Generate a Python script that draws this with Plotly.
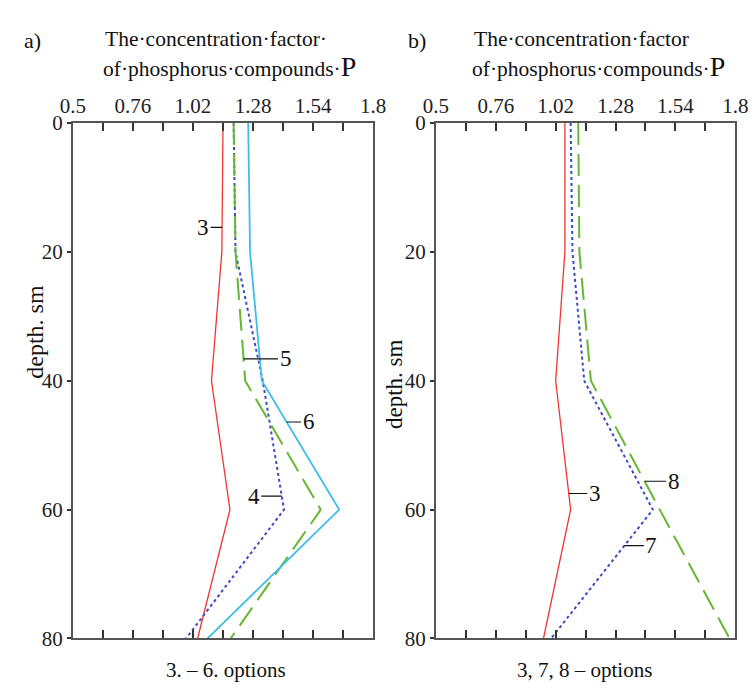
import numpy as np
import plotly.graph_objects as go

# depth levels, cm
depth = [0, 20, 40, 60, 80]

# panel a) options 3-6: concentration factor of phosphorus compounds
a_opt3 = [1.15, 1.145, 1.10, 1.18, 1.04]
a_opt4 = [1.196, 1.204, 1.322, 1.414, 0.99]
a_opt5 = [1.196, 1.204, 1.246, 1.573, 1.183]
a_opt6 = [1.259, 1.267, 1.318, 1.653, 1.083]

# panel b) options 3, 7, 8
b_opt3 = [1.06, 1.06, 1.02, 1.085, 0.967]
b_opt7 = [1.085, 1.093, 1.144, 1.442, 1.0]
b_opt8 = [1.118, 1.123, 1.173, 1.472, 1.775]

x_ticks = [0.5, 0.63, 0.76, 0.89, 1.02, 1.15, 1.28, 1.41, 1.54, 1.67, 1.8]
x_tick_text = ["0.5", "", "0.76", "", "1.02", "", "1.28", "", "1.54", "", "1.8"]
y_ticks = [0, 20, 40, 60, 80]

SERIF = "Liberation Serif"
RED = "#ee3535"
BLUE = "#3a4cc0"
GREEN = "#66b832"
CYAN = "#3ebde9"

fig = go.Figure()


def add_line(xs, xa, ya, color, dash, width):
    fig.add_trace(go.Scatter(
        x=xs, y=depth, xaxis=xa, yaxis=ya, mode="lines",
        line=dict(color=color, dash=dash, width=width),
        showlegend=False, hoverinfo="skip"))


add_line(a_opt3, "x", "y", RED, "solid", 1.3)
add_line(a_opt4, "x", "y", BLUE, "3px,3px", 2)
add_line(a_opt5, "x", "y", GREEN, "22px,9px", 2)
add_line(a_opt6, "x", "y", CYAN, "solid", 1.8)

add_line(b_opt3, "x2", "y2", RED, "solid", 1.3)
add_line(b_opt7, "x2", "y2", BLUE, "3px,3px", 2)
add_line(b_opt8, "x2", "y2", GREEN, "22px,9px", 2)

dom_a = [62 / 756, 373 / 756]
dom_b = [438 / 756, 748 / 756]
dom_y = [1 - 649 / 692, 1 - 115 / 692]

xaxis_common = dict(
    range=[0.5, 1.8], side="top", tickmode="array", tickvals=x_ticks,
    ticktext=x_tick_text, ticks="inside", ticklen=8, tickwidth=1.5,
    tickcolor="#333", showline=True, linewidth=2, linecolor="#555",
    mirror="ticks", showgrid=False, zeroline=False,
    tickfont=dict(family=SERIF, size=21, color="#222"))

yaxis_common = dict(
    range=[80, 0], tickmode="array", tickvals=y_ticks, ticks="outside",
    ticklen=4, tickwidth=1.5, tickcolor="#333", showline=True,
    linewidth=2, linecolor="#555", mirror=True, showgrid=False,
    zeroline=False, tickfont=dict(family=SERIF, size=21, color="#222"))

yaxis_right = dict(
    range=[80, 0], tickmode="array", tickvals=[20, 40, 60], ticks="inside",
    ticklen=6, tickwidth=1.5, tickcolor="#333", showticklabels=False,
    showline=False, showgrid=False, zeroline=False, side="right")

fig.update_layout(
    width=756, height=692, margin=dict(l=0, r=0, t=0, b=0),
    paper_bgcolor="white", plot_bgcolor="white",
    xaxis=dict(domain=dom_a, anchor="y", **xaxis_common),
    yaxis=dict(domain=dom_y, anchor="x", **yaxis_common),
    xaxis2=dict(domain=dom_b, anchor="y2", **xaxis_common),
    yaxis2=dict(domain=dom_y, anchor="x2", **yaxis_common),
    yaxis3=dict(overlaying="y", anchor="x", **yaxis_right),
    yaxis4=dict(overlaying="y2", anchor="x2", **yaxis_right),
)

annotations = []


def paper_text(text, x, y, size, xanchor="left", angle=0):
    annotations.append(dict(
        text=text, x=x / 756, y=1 - y / 692, xref="paper", yref="paper",
        xanchor=xanchor, yanchor="middle", showarrow=False, textangle=angle,
        font=dict(family=SERIF, size=size, color="#111")))


# panel letters and headings
paper_text("a)", 9, 30, 22)
paper_text("b)", 407, 30, 22)
paper_text("The·concentration·factor·", 93, 28, 21.5)
paper_text("of·phosphorus·compounds·<span style='font-size:28px'>P</span>", 91, 56, 21.5)
paper_text("The·concentration·factor", 475, 28, 21.5)
paper_text("of·phosphorus·compounds·<span style='font-size:28px'>P</span>", 473, 56, 21.5)

# vertical axis titles
paper_text("depth. sm", 22, 331, 24, xanchor="center", angle=-90)
paper_text("depth. sm", 395, 385, 23, xanchor="center", angle=-90)

# captions under panels
paper_text("3. – 6. options", 221, 682, 21, xanchor="center")
paper_text("3, 7, 8 – options", 592, 682, 21, xanchor="center")


def curve_label(text, series, d, xa, ya, ax):
    annotations.append(dict(
        text=text, x=float(np.interp(d, depth, series)), y=d, xref=xa, yref=ya,
        ax=ax, ay=0, showarrow=True, arrowhead=0, arrowwidth=1.2,
        arrowcolor="#111", standoff=0,
        font=dict(family=SERIF, size=23, color="#111")))


curve_label("3", a_opt3, 16.2, "x", "y", -19)
curve_label("5", a_opt5, 36.6, "x", "y", 42)
curve_label("6", a_opt6, 46.4, "x", "y", 22)
curve_label("4", a_opt4, 57.9, "x", "y", -28)

curve_label("3", b_opt3, 57.5, "x2", "y2", 26)
curve_label("8", b_opt8, 55.6, "x2", "y2", 29)
curve_label("7", b_opt7, 65.6, "x2", "y2", 27)

fig.update_layout(annotations=annotations)

fig.write_html("out.html")
